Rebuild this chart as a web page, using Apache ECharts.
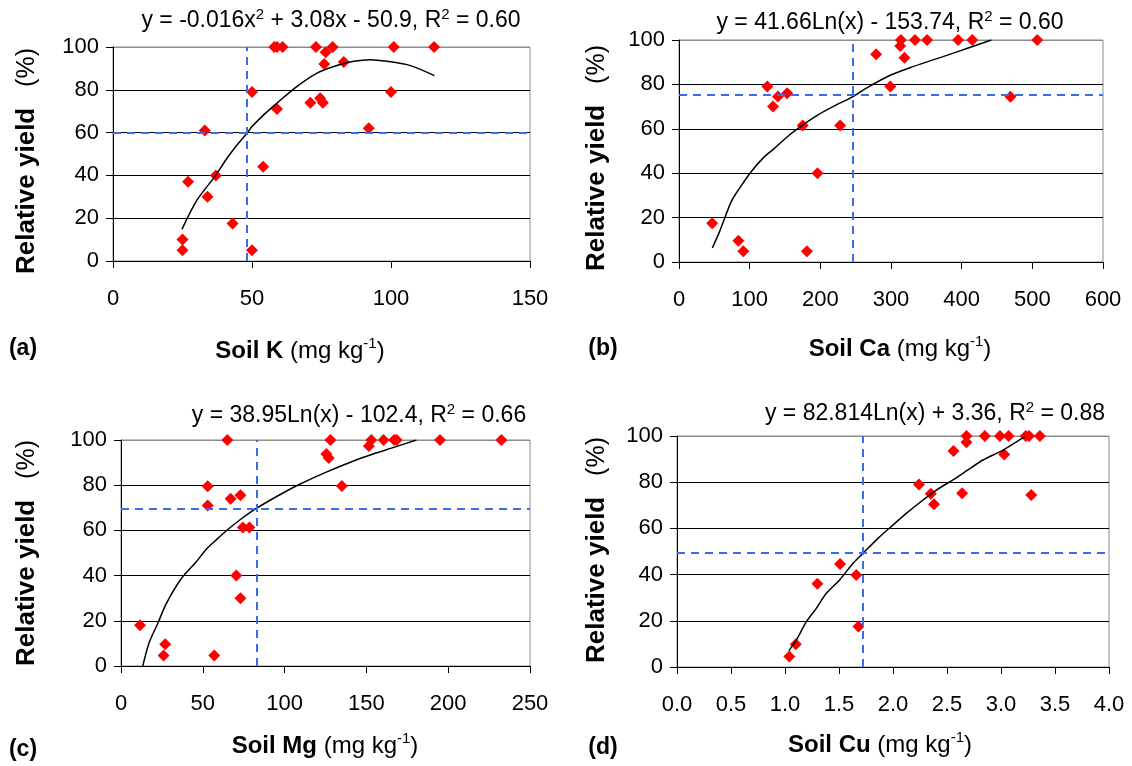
<!DOCTYPE html>
<html>
<head>
<meta charset="utf-8">
<script src="https://cdn.jsdelivr.net/npm/echarts@6/dist/echarts.min.js"></script>
<style>
html,body{margin:0;padding:0;background:#fff;}
#chart{width:1132px;height:766px;}
</style>
</head>
<body>
<div id="chart"></div>
<script>
// ---------- DATA ----------
// (a) Soil K
const kX = [25, 25, 27, 33, 37, 34, 43, 50, 50, 54, 59, 58, 59, 61, 73, 79, 76.5, 76, 83, 71, 74.5, 75.5, 92, 100, 101, 115.5];
const kY = [10, 5, 37, 61, 40, 30, 17.5, 79, 5, 44, 71, 100, 100, 100, 100, 100, 97.5, 92, 93, 74, 76, 74, 62, 79, 100, 100];
const kCurveX = [24.8, 30.2, 36.8, 41.0, 44.6, 48.2, 50.0, 54.2, 59.0, 66.2, 73.4, 79.4, 86.6, 92.6, 98.6, 107.0, 115.6];
const kCurveY = [14.8, 28.4, 39.8, 48.0, 54.2, 59.7, 62.8, 68.3, 73.8, 81.6, 87.8, 90.9, 93.3, 94.1, 93.3, 91.3, 86.6];
const kCrit = [48, 60];

// (b) Soil Ca
const caX = [47, 84, 91, 125, 133, 140, 153, 175, 181, 196, 228, 279, 299, 314, 313, 319, 334, 351, 395, 415, 469, 507];
const caY = [17.5, 9.6, 4.8, 79, 70, 74.5, 76, 61.5, 4.8, 40, 61.5, 93.6, 79, 100, 97.3, 92, 100, 100, 100, 100, 74.4, 100];
const caCurveX = [47.2, 57.5, 74.1, 85.8, 102.4, 118.9, 135.4, 156.6, 175.5, 196.7, 217.9, 246.2, 265.1, 298.1, 331.1, 373.6, 411.3, 442];
const caCurveY = [6.3, 13.8, 27.3, 33.3, 40.8, 46.8, 51.3, 57.3, 61.8, 66.3, 70.0, 74.5, 78.3, 84.0, 88.0, 92.5, 96.6, 100];
const caCrit = [246, 75.4];

// (c) Soil Mg
const mgX = [11.6, 27, 26, 57, 65, 53, 53, 67, 73, 74.5, 78.5, 70.5, 73, 128, 125.5, 127, 135, 151.5, 153, 160.5, 167, 168.5, 195, 232.5];
const mgY = [18, 9.6, 4.6, 4.6, 100, 79.5, 71, 74, 75.6, 61.3, 61.3, 40, 30, 100, 93.8, 92, 79.6, 97.3, 100, 100, 100, 100, 100, 100];
const mgCurveX = [13.3, 17.3, 22.4, 27.6, 36.7, 45.9, 52.0, 58.2, 65.3, 72.4, 82.7, 94.9, 109.2, 125.5, 141.8, 154.1, 165.3, 180.6];
const mgCurveY = [0, 10.5, 18.7, 27.5, 38.5, 46.0, 51.5, 55.8, 60.4, 64.5, 69.7, 74.9, 80.4, 85.8, 90.6, 93.8, 96.4, 100];
const mgCrit = [82.7, 69.6];

// (d) Soil Cu
const cuX = [1.04, 1.10, 1.30, 1.51, 1.66, 1.68, 2.24, 2.35, 2.38, 2.56, 2.64, 2.68, 2.68, 2.85, 2.99, 3.07, 3.03, 3.23, 3.26, 3.28, 3.36];
const cuY = [4.5, 9.8, 36, 44.6, 39.8, 17.5, 79, 75, 70.5, 93.5, 75.2, 100, 97.3, 100, 100, 100, 92, 100, 100, 74.5, 100];
const cuCurveX = [1.037, 1.105, 1.198, 1.290, 1.383, 1.506, 1.630, 1.722, 1.861, 2.0, 2.123, 2.278, 2.401, 2.556, 2.694, 2.833, 3.019, 3.219];
const cuCurveY = [7.1, 11.7, 19.6, 25.4, 31.9, 37.7, 44.9, 49.2, 55.7, 61.5, 66.5, 72.3, 76.6, 81.0, 85.3, 89.6, 93.9, 99.7];
const cuCrit = [1.72, 49.5];

// axis ranges [min, max, interval]
const xRanges = [[0, 150, 50], [0, 600, 100], [0, 250, 50], [0, 4, 0.5]];
const yRange = [0, 100, 20];

const panelLetters = ['(a)', '(b)', '(c)', '(d)'];
const nutrients = ['Soil K', 'Soil Ca', 'Soil Mg', 'Soil Cu'];
const equations = [
  'y = -0.016x{s|2} + 3.08x - 50.9, R{s|2} = 0.60',
  'y = 41.66Ln(x) - 153.74, R{s|2} = 0.60',
  'y = 38.95Ln(x) - 102.4, R{s|2} = 0.66',
  'y = 82.814Ln(x) + 3.36, R{s|2} = 0.88'
];

// ---------- BUILD ----------
const FONT = '"Liberation Sans", Arial, sans-serif';
const zip = (a, b) => a.map((v, i) => [v, b[i]]);
const panels = [
  {x: kX, y: kY, cx: kCurveX, cy: kCurveY, crit: kCrit},
  {x: caX, y: caY, cx: caCurveX, cy: caCurveY, crit: caCrit},
  {x: mgX, y: mgY, cx: mgCurveX, cy: mgCurveY, crit: mgCrit},
  {x: cuX, y: cuY, cx: cuCurveX, cy: cuCurveY, crit: cuCrit}
];

const grids = [
  {left: 113, top: 47, width: 417, height: 214},
  {left: 679, top: 40, width: 424, height: 222},
  {left: 121, top: 440, width: 409, height: 226},
  {left: 677, top: 436, width: 432, height: 231}
].map(g => Object.assign({show: true, borderColor: '#8c8c8c', borderWidth: 1, backgroundColor: 'transparent'}, g));

const xAxes = xRanges.map((r, i) => ({
  type: 'value', gridIndex: i, min: r[0], max: r[1], interval: r[2],
  axisLine: {show: true, onZero: false, lineStyle: {color: '#000', width: 1}},
  axisTick: {show: true, inside: false, length: 7, lineStyle: {color: '#000'}},
  splitLine: {show: false},
  axisLabel: {color: '#000', fontFamily: FONT, fontSize: 22, margin: 27,
    formatter: i === 3 ? (v => v.toFixed(1)) : (v => String(v))}
}));

const yAxes = panels.map((p, i) => ({
  type: 'value', gridIndex: i, min: yRange[0], max: yRange[1], interval: yRange[2],
  axisLine: {show: true, onZero: false, lineStyle: {color: '#000', width: 1}},
  axisTick: {show: true, inside: false, length: 7, lineStyle: {color: '#000'}},
  splitLine: {show: true, lineStyle: {color: ['#000', '#000', '#000', '#000', '#000', '#8c8c8c'], width: 1}},
  axisLabel: {color: '#000', fontFamily: FONT, fontSize: 22, margin: 14}
}));

const series = [];
panels.forEach((p, i) => {
  series.push({
    type: 'scatter', xAxisIndex: i, yAxisIndex: i,
    data: zip(p.x, p.y), symbol: 'diamond', symbolSize: 12,
    itemStyle: {color: '#ff0000', opacity: 1}, z: 3, silent: true,
    markLine: {
      silent: true, symbol: 'none', animation: false,
      label: {show: false},
      lineStyle: {color: '#3a6cf0', type: [8, 6], width: 2},
      data: [{xAxis: p.crit[0]}, {yAxis: p.crit[1]}]
    }
  });
  series.push({
    type: 'line', xAxisIndex: i, yAxisIndex: i,
    data: zip(p.cx, p.cy), showSymbol: false, smooth: 0.3,
    lineStyle: {color: '#000', width: 1.5}, z: 4, silent: true
  });
});

// ---------- TEXT ----------
function richText(x, y, text, rich, rot) {
  return {
    type: 'text', x: x, y: y, rotation: rot || 0, silent: true,
    style: {text: text, rich: rich, align: 'center', verticalAlign: 'middle', fill: '#000', font: '22px ' + FONT}
  };
}
const eqRich = {
  n: {fontSize: 23, fontFamily: FONT, lineHeight: 28, fill: '#000'},
  s: {fontSize: 15, fontFamily: FONT, verticalAlign: 'top', lineHeight: 15, fill: '#000'}
};
const titleRich = {
  b: {fontSize: 24, fontWeight: 'bold', fontFamily: FONT, lineHeight: 30, fill: '#000'},
  n: {fontSize: 24, fontFamily: FONT, lineHeight: 30, fill: '#000'},
  s: {fontSize: 15, fontFamily: FONT, verticalAlign: 'top', lineHeight: 15, fill: '#000'}
};
const yTitleRich = {
  b: {fontSize: 26, fontWeight: 'bold', fontFamily: FONT, lineHeight: 30, fill: '#000'},
  n: {fontSize: 25, fontFamily: FONT, lineHeight: 30, fill: '#000'}
};
const eqPos = [[331, 21], [890, 23], [359, 416], [935, 414]];
const xtPos = [[300, 351], [900, 349], [325, 746], [880, 745]];
const ytPos = [[27, 161], [597, 158], [27, 553], [597, 550]];
const lpPos = [[23, 349], [603, 349], [23, 750], [603, 748]];

const graphics = [];
for (let i = 0; i < 4; i++) {
  graphics.push(richText(eqPos[i][0], eqPos[i][1], '{n|' + equations[i].replace(/\{s\|2\}/g, '}{s|2}{n|') + '}', eqRich));
  graphics.push(richText(xtPos[i][0], xtPos[i][1], '{b|' + nutrients[i] + '}{n| (mg kg}{s|-1}{n|)}', titleRich));
  graphics.push(richText(ytPos[i][0], ytPos[i][1], '{b|Relative yield}{n|   (%)}', yTitleRich, Math.PI / 2));
  graphics.push(richText(lpPos[i][0], lpPos[i][1], '{b|' + panelLetters[i] + '}', {b: {fontSize: 23, fontWeight: 'bold', fontFamily: FONT, fill: '#000'}}));
}

const chart = echarts.init(document.getElementById('chart'), null, {renderer: 'canvas'});
chart.setOption({
  animation: false,
  backgroundColor: '#fff',
  textStyle: {fontFamily: FONT},
  grid: grids,
  xAxis: xAxes,
  yAxis: yAxes,
  series: series,
  graphic: graphics
});
</script>
</body>
</html>
